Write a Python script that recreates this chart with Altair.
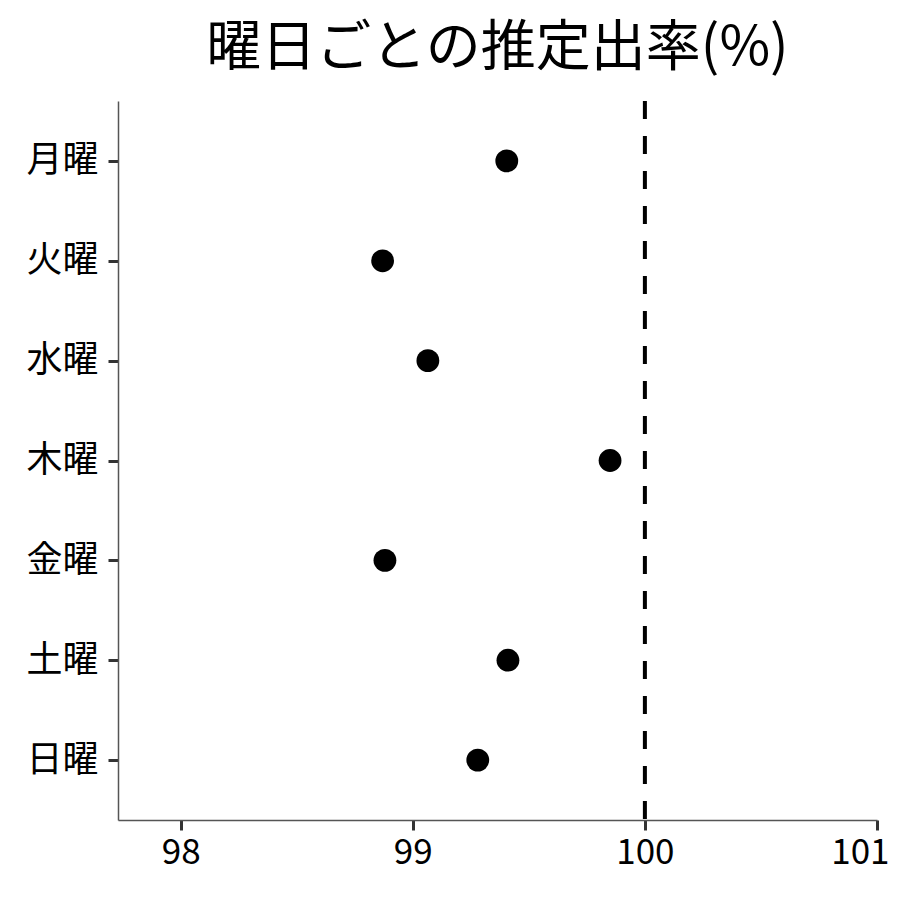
import altair as alt
import pandas as pd

days = ["月曜", "火曜", "水曜", "木曜", "金曜", "土曜", "日曜"]
rates = [99.405, 98.87, 99.065, 99.85, 98.88, 99.41, 99.28]
x_ticks = [98, 99, 100, 101]
ref_value = [100]

df = pd.DataFrame({"day": days, "rate": rates})
ref = pd.DataFrame({"v": ref_value})

FONT = "Noto Sans CJK JP"

xscale = alt.Scale(domain=[97.73, 101], nice=False, zero=False)

points = alt.Chart(df).mark_circle(size=520, color="black", opacity=1).encode(
    x=alt.X("rate:Q", scale=xscale, title=None,
            axis=alt.Axis(values=x_ticks, format="d", grid=False, labelFontSize=35, labelFont=FONT,
                          labelColor="black", tickColor="#333333", tickWidth=3, tickSize=10,
                          domainColor="#555555", domainWidth=1.5, labelPadding=5,
                          labelFlush=True, labelFlushOffset=12)),
    y=alt.Y("day:N", sort=days, scale=alt.Scale(type="point", padding=0.6), title=None,
            axis=alt.Axis(grid=False, labelFontSize=36, labelFont=FONT, labelColor="black",
                          tickColor="#333333", tickWidth=3, tickSize=10,
                          domainColor="#555555", domainWidth=1.5, labelPadding=10)),
)

rule = alt.Chart(ref).mark_rule(color="black", strokeWidth=4, strokeDash=[18, 17]).encode(
    x=alt.X("v:Q", scale=xscale)
)

chart = alt.layer(rule, points).properties(
    width=759,
    height=719,
    title=alt.Title("曜日ごとの推定出率(%)", fontSize=55, font=FONT, fontWeight="normal",
                    color="black", anchor="middle", offset=22),
    autosize=alt.AutoSizeParams(type="none"),
    padding={"left": 110, "top": 93, "right": 14, "bottom": 70},
).configure_view(stroke=None)

chart.save("out.html", embed_options={"renderer": "svg", "actions": False})
